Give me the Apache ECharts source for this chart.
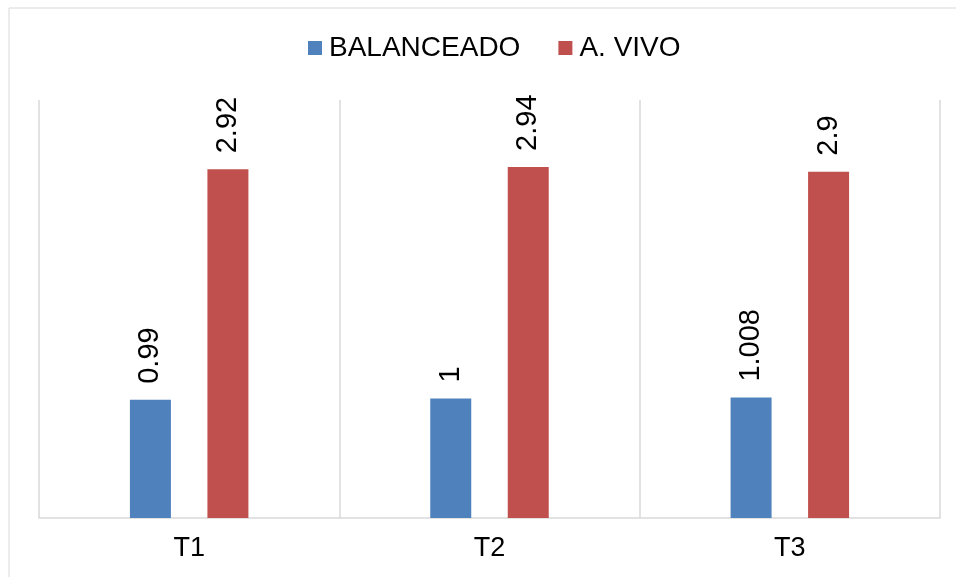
<!DOCTYPE html>
<html>
<head>
<meta charset="utf-8">
<script src="https://cdn.jsdelivr.net/npm/echarts@6/dist/echarts.min.js"></script>
<style>
  html, body { margin: 0; padding: 0; background: #fff; }
  #chart { width: 956px; height: 577px; }
</style>
</head>
<body>
<div id="chart"></div>
<script>
const categories = ['T1', 'T2', 'T3'];
const balanceado = [0.99, 1, 1.008];
const aVivo = [2.92, 2.94, 2.9];
const seriesNames = ['BALANCEADO', 'A. VIVO'];

const font = '"Liberation Sans", Arial, sans-serif';
const chart = echarts.init(document.getElementById('chart'));

const barLabel = {
  show: true,
  position: 'top',
  rotate: 90,
  align: 'left',
  verticalAlign: 'middle',
  distance: 16,
  color: '#000',
  fontSize: 29,
  fontFamily: font,
};

chart.setOption({
  animation: false,
  graphic: [{
    type: 'rect',
    shape: { x: 9, y: 8, width: 960, height: 580 },
    style: { fill: 'none', stroke: '#d9d9d9', lineWidth: 1 },
    silent: true,
  }],
  legend: {
    top: 29,
    left: 303,
    itemWidth: 14,
    itemHeight: 14,
    itemGap: 38,
    icon: 'rect',
    textStyle: { fontSize: 28, fontFamily: font, color: '#000', padding: [0, 0, 0, 2] },
    data: seriesNames,
  },
  grid: { left: 39, right: 16, top: 100, bottom: 59, containLabel: false },
  xAxis: {
    type: 'category',
    data: categories,
    axisLine: { lineStyle: { color: '#d9d9d9', width: 1.5 } },
    axisTick: { show: false },
    splitLine: { show: true, lineStyle: { color: '#d9d9d9', width: 1.5 } },
    axisLabel: { color: '#000', fontSize: 27, fontFamily: font, margin: 17 },
  },
  yAxis: {
    type: 'value',
    min: 0,
    max: 3.5,
    interval: 0.5,
    show: false,
    splitLine: { show: false },
  },
  series: [
    {
      name: seriesNames[0],
      type: 'bar',
      data: balanceado,
      barWidth: 41,
      barGap: '89%',
      itemStyle: { color: '#4F81BD' },
      label: barLabel,
    },
    {
      name: seriesNames[1],
      type: 'bar',
      data: aVivo,
      barWidth: 41,
      itemStyle: { color: '#C0504D' },
      label: barLabel,
    },
  ],
});
</script>
</body>
</html>
